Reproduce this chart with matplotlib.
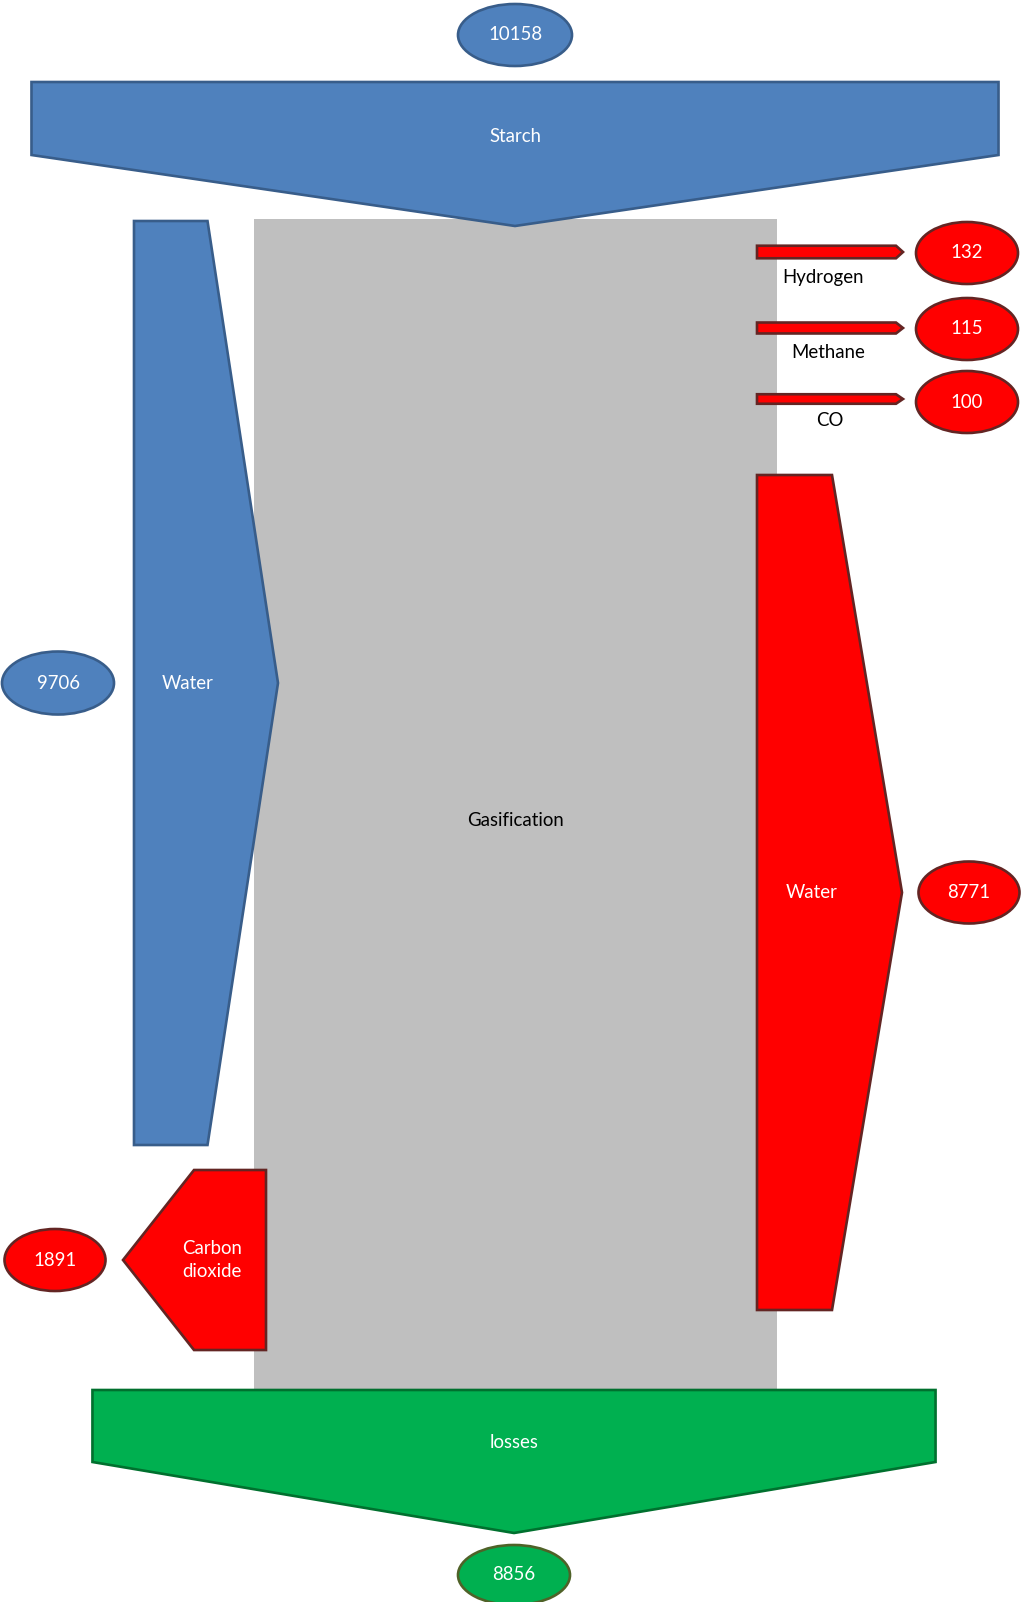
import matplotlib
matplotlib.use("Agg")
import matplotlib.pyplot as plt
from matplotlib.patches import Polygon, Ellipse, Rectangle

# ---- data ----
flow_names = ["Starch", "Water", "Carbon\ndioxide", "Hydrogen", "Methane", "CO", "Water", "losses"]
flow_values = [10158, 9706, 1891, 132, 115, 100, 8771, 8856]
process_name = "Gasification"

PX_PER_UNIT = 0.0952  # arrow thickness per unit of flow

BLUE, BLUE_E = "#4F81BD", "#385D8A"
RED, RED_E = "#FF0000", "#632523"
GREEN, GREEN_E = "#00B050", "#00702E"
GREEN_OV_E = "#4F6228"
GRAY = "#BFBFBF"

W, H = 1022, 1602
fig = plt.figure(figsize=(W / 100, H / 100), dpi=100)
ax = fig.add_axes([0, 0, 1, 1])
ax.set_xlim(0, W)
ax.set_ylim(H, 0)
ax.axis("off")

FONT = "Lato"
FS = 13.4
LW = 1.9


def poly(pts, fc, ec):
    ax.add_patch(Polygon(pts, closed=True, fc=fc, ec=ec, lw=LW, joinstyle="miter"))


def oval(cx, cy, w, h, fc, ec, txt):
    ax.add_patch(Ellipse((cx, cy), w, h, fc=fc, ec=ec, lw=LW))
    ax.text(cx, cy, txt, color="white", ha="center", va="center", fontsize=FS, family=FONT)


def label(x, y, txt, color="white"):
    ax.text(x, y, txt, color=color, ha="center", va="center", fontsize=FS, family=FONT,
            linespacing=1.45)


def down_arrow(cx, y0, value, y_side, y_tip, fc, ec):
    w = value * PX_PER_UNIT
    x0, x1 = cx - w / 2, cx + w / 2
    poly([(x0, y0), (x1, y0), (x1, y_side), (cx, y_tip), (x0, y_side)], fc, ec)


def right_arrow(x0, y0, value, x_body, x_tip, fc, ec):
    h = value * PX_PER_UNIT
    poly([(x0, y0), (x_body, y0), (x_tip, y0 + h / 2), (x_body, y0 + h), (x0, y0 + h)], fc, ec)
    return y0 + h / 2


def left_arrow(x1, y0, value, x_body, x_tip, fc, ec):
    h = value * PX_PER_UNIT
    poly([(x1, y0), (x_body, y0), (x_tip, y0 + h / 2), (x_body, y0 + h), (x1, y0 + h)], fc, ec)
    return y0 + h / 2


# process box
ax.add_patch(Rectangle((253.5, 219), 523.5, 1171, fc=GRAY, ec="none"))
label(515, 820, process_name, color="black")

# Starch (input, top)
down_arrow(515, 82, flow_values[0], 155, 226, BLUE, BLUE_E)
label(515, 136, flow_names[0])
oval(515, 35, 114, 62, BLUE, BLUE_E, str(flow_values[0]))

# Water in (left)
cy = right_arrow(134, 221, flow_values[1], 207.5, 278, BLUE, BLUE_E)
label(188, cy, flow_names[1])
oval(58, cy, 112, 63, BLUE, BLUE_E, str(flow_values[1]))

# Carbon dioxide (out, left)
cy = left_arrow(266, 1170, flow_values[2], 194, 123, RED, RED_E)
label(212, cy, flow_names[2])
oval(55, cy, 101, 62, RED, RED_E, str(flow_values[2]))

# small gas outputs (right)
gas_centers = [252, 328, 399]
gas_label_y = [278, 353, 421]
gas_label_x = [823, 828, 830]
gas_oval_y = [253, 329, 402]
for i, (gy, ly, lx, oy) in enumerate(zip(gas_centers, gas_label_y, gas_label_x, gas_oval_y)):
    v = flow_values[3 + i]
    h = v * PX_PER_UNIT
    right_arrow(757, gy - h / 2, v, 896, 903, RED, RED_E)
    label(lx, ly, flow_names[3 + i], color="black")
    oval(967, oy, 102, 62, RED, RED_E, str(v))

# Water out (right)
cy = right_arrow(757, 475, flow_values[6], 832, 902, RED, RED_E)
label(812, cy, flow_names[6])
oval(969, cy, 101, 62, RED, RED_E, str(flow_values[6]))

# losses (bottom)
down_arrow(514, 1390, flow_values[7], 1462, 1533, GREEN, GREEN_E)
label(514, 1443, flow_names[7])
oval(514, 1575, 112, 60, GREEN, GREEN_OV_E, str(flow_values[7]))

fig.savefig("out.png", dpi=100)
